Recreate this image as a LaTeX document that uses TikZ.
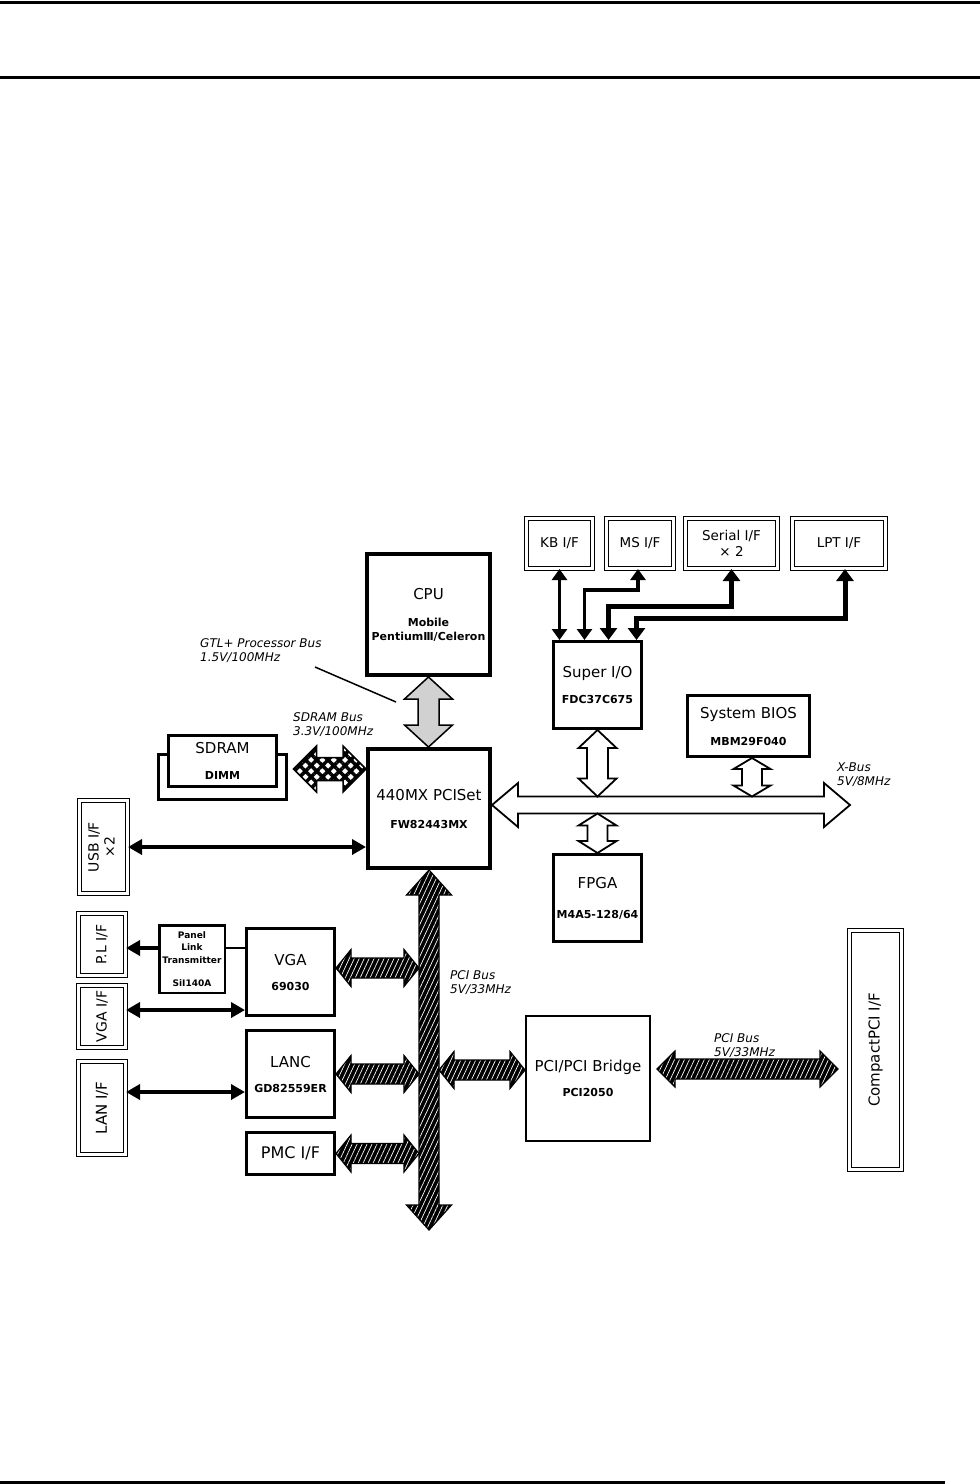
\documentclass[tikz,border=0pt]{standalone}
\usepackage{fontspec}
\setmainfont{DejaVu Sans}
\usetikzlibrary{arrows.meta,calc,patterns.meta,backgrounds}

\newcommand\boxttl[1]{{\mdseries\fontsize{15}{15}\selectfont #1}}
\newcommand\subfnt{\bfseries\fontsize{11}{14}\selectfont}
% horizontal double fat arrow: style, left tip, right tip, shaft half, head half, head length
\newcommand\fatH[6]{%
  \path[#1] let \p1=(#2), \p2=(#3) in
    (\x1,\y1) -- (\x1+#6pt,\y1+#5pt) -- (\x1+#6pt,\y1+#4pt) -- (\x2-#6pt,\y1+#4pt)
    -- (\x2-#6pt,\y1+#5pt) -- (\x2,\y1) -- (\x2-#6pt,\y1-#5pt) -- (\x2-#6pt,\y1-#4pt)
    -- (\x1+#6pt,\y1-#4pt) -- (\x1+#6pt,\y1-#5pt) -- cycle;}
% vertical double fat arrow: style, top tip, bottom tip, shaft half, head half, head length
\newcommand\fatV[6]{%
  \path[#1] let \p1=(#2), \p2=(#3) in
    (\x1,\y1) -- (\x1+#5pt,\y1-#6pt) -- (\x1+#4pt,\y1-#6pt) -- (\x1+#4pt,\y2+#6pt)
    -- (\x1+#5pt,\y2+#6pt) -- (\x1,\y2) -- (\x1-#5pt,\y2+#6pt) -- (\x1-#4pt,\y2+#6pt)
    -- (\x1-#4pt,\y1-#6pt) -- (\x1-#5pt,\y1-#6pt) -- cycle;}

\tikzset{
  blk/.style={draw, line width=3pt, inner sep=0pt, align=center, font=\subfnt, fill=white},
  dblbox/.style={draw, double, double distance=2.6pt, line width=1.4pt, inner sep=0pt,
    align=center, font=\fontsize{13.5}{16}\selectfont},
  lbl/.style={font=\itshape\fontsize{12}{14}\selectfont, align=left, anchor=north west, inner sep=0pt},
  ioarr/.style={line width=3.5pt, <->, >={Triangle[width=15pt,length=11pt]}},
  ioarrb/.style={line width=5pt, <->, >={Triangle[width=17pt,length=12pt]}},
  bigarr/.style={line width=4.5pt, <->, >={Triangle[width=15pt,length=14pt]}},
  grayfat/.style={draw, line width=1.5pt, fill=black!18, line join=miter},
  whitefat/.style={draw, line width=1.8pt, fill=white, line join=miter},
  hatchfat/.style={draw, line width=1.2pt, preaction={fill=black},
    pattern={Lines[angle=65,distance=4.5pt,line width=0.7pt]}, pattern color=white},
  crossfat/.style={draw, line width=1.5pt, preaction={fill=white},
    pattern={Hatch[angle=45,distance=8pt,line width=3.5pt]}, pattern color=black},
}

\begin{document}
\begin{tikzpicture}[x=1pt,y=-1pt]
\useasboundingbox (0,0) rectangle (980,1484);
\begin{scope}[on background layer]
  \fill[white] (0,0) rectangle (980,1484);
\end{scope}

% page rules
\draw[line width=3pt] (0,2) -- (980,2);
\draw[line width=3pt] (0,77.5) -- (980,77.5);
\draw[line width=3pt] (0,1482) -- (945,1482);

% main blocks
\node[blk, line width=4pt, minimum width=123pt, minimum height=121pt] (cpu) at (428.5,614.5)
  {\boxttl{CPU}\\[13pt]Mobile\\PentiumⅢ/Celeron};
\node[blk, line width=4pt, minimum width=122pt, minimum height=119pt] (mch) at (429,808.5)
  {\boxttl{440MX PCISet}\\[14pt]FW82443MX};
\node[blk, minimum width=108pt, minimum height=51pt] (sdram) at (222.5,761)
  {\boxttl{SDRAM}\\[12pt]DIMM};
\begin{scope}[on background layer]
  \draw[line width=3pt] ($(sdram.south west)+(-8.5,11.5)$) rectangle ($(sdram.north east)+(8.5,20)$);
\end{scope}
\node[blk, minimum width=88pt, minimum height=87pt] (sio) at (597.5,685)
  {\boxttl{Super I/O}\\[12pt]FDC37C675};
\node[blk, minimum width=122pt, minimum height=61pt] (bios) at (748.5,726)
  {\boxttl{System BIOS}\\[13pt]MBM29F040};
\node[blk, minimum width=88pt, minimum height=87pt] (fpga) at (597.5,898)
  {\boxttl{FPGA}\\[16pt]M4A5-128/64};
\node[blk, minimum width=88pt, minimum height=87pt] (vga) at (290.5,972)
  {\boxttl{VGA}\\[11pt]69030};
\node[blk, minimum width=88pt, minimum height=87pt] (lanc) at (290.5,1074)
  {\boxttl{LANC}\\[11pt]GD82559ER};
\node[blk, minimum width=88pt, minimum height=42pt, font=\fontsize{16}{16}\selectfont] (pmc) at (290.5,1153.5)
  {PMC I/F};
\node[blk, line width=2pt, minimum width=124pt, minimum height=125pt] (bridge) at (588,1078.5)
  {\boxttl{PCI/PCI Bridge}\\[11pt]PCI2050};
\node[blk, line width=2.5pt, minimum width=65.5pt, minimum height=67.5pt,
  font=\bfseries\fontsize{9}{12.5}\selectfont] (plt) at (192,959)
  {Panel\\Link\\Transmitter\\[11pt]SiI140A};

% interface boxes
\node[dblbox, minimum width=65.6pt, minimum height=49.6pt] (kb) at (559.5,543.5) {KB I/F};
\node[dblbox, minimum width=66.6pt, minimum height=49.6pt] (ms) at (640,543.5) {MS I/F};
\node[dblbox, minimum width=91.6pt, minimum height=49.6pt] (ser) at (731.5,543.5) {Serial I/F\\× 2};
\node[dblbox, minimum width=92.6pt, minimum height=49.6pt] (lpt) at (839,543.5) {LPT I/F};
\node[dblbox, minimum width=47.6pt, minimum height=92.6pt, font=\fontsize{14}{16}\selectfont] (usb) at (103.5,847)
  {\rotatebox{90}{\begin{tabular}{@{}c@{}}USB I/F\\[0pt]×2\end{tabular}}};
\node[dblbox, minimum width=46.6pt, minimum height=61.6pt, font=\fontsize{14}{16}\selectfont] (pl) at (102,944.5)
  {\rotatebox{90}{P.L I/F}};
\node[dblbox, minimum width=46.6pt, minimum height=61.6pt, font=\fontsize{14}{16}\selectfont] (vgaif) at (102,1016.5)
  {\rotatebox{90}{VGA I/F}};
\node[dblbox, minimum width=46.6pt, minimum height=92.6pt, font=\fontsize{15}{16}\selectfont] (lanif) at (102,1108)
  {\rotatebox{90}{LAN I/F}};
\node[dblbox, minimum width=51.6pt, minimum height=238.6pt, font=\fontsize{15}{16}\selectfont] (cpci) at (875.5,1050)
  {\rotatebox{90}{CompactPCI I/F}};

% bus labels
\node[lbl] (gtl) at (200,638) {GTL+ Processor Bus\\1.5V/100MHz};
\node[lbl] (sdbus) at (293,712) {SDRAM Bus\\3.3V/100MHz};
\node[lbl] (xbus) at (837,763) {X-Bus\\5V/8MHz};
\node[lbl] (pcibus) at (450,970) {PCI Bus\\5V/33MHz};
\node[lbl] (cpcibus) at (714,1033) {PCI Bus\\5V/33MHz};
\coordinate (ldA) at (315,667);
\coordinate (ldB) at (396,702);
\draw[line width=1.5pt] (ldA) -- (ldB);

% CPU bus
\fatV{grayfat}{cpu.south}{mch.north}{10.5}{24}{22}

% SDRAM bus
\coordinate (sdA) at ($(sdram.east)+(15.5,8)$);
\fatH{crossfat}{sdA}{sdA -| mch.west}{11.5}{23}{23}

% X-Bus
\coordinate (xbL) at ($(mch.east)+(0,-3.5)$);
\coordinate (xbR) at ($(xbL)+(358,0)$);
\coordinate (xbT) at ($(xbL)+(0,-8.5)$);
\coordinate (xbB) at ($(xbL)+(0,8.5)$);
\fatH{whitefat}{xbL}{xbR}{8.5}{22}{26}
\fatV{whitefat}{sio.south}{sio.south |- xbT}{10.5}{19}{18}
\coordinate (bioA) at ($(bios.south)+(3.5,0)$);
\fatV{whitefat}{bioA}{bioA |- xbT}{10}{18.5}{11}
\fatV{whitefat}{fpga.north |- xbB}{fpga.north}{10}{19}{12}

% PCI bus
\coordinate (busEnd) at ($(mch.south)+(0,360)$);
\coordinate (busL) at ($(mch.south)+(-10,0)$);
\coordinate (busR) at ($(mch.south)+(10,0)$);
\fatV{hatchfat}{mch.south}{busEnd}{10}{22.5}{25}
\coordinate (vgA) at ($(vga.east)+(0,-4)$);
\fatH{hatchfat}{vgA}{vgA -| busL}{10}{18.5}{15}
\fatH{hatchfat}{lanc.east}{lanc.east -| busL}{10}{18.5}{15}
\fatH{hatchfat}{pmc.east}{pmc.east -| busL}{10}{18.5}{15}
\coordinate (brA) at ($(bridge.west)+(0,-8.5)$);
\fatH{hatchfat}{brA -| busR}{brA}{10}{18.5}{15}
\coordinate (cpA) at ($(bridge.east)+(6,-9.5)$);
\coordinate (cpB) at ($(cpA -| cpci.west)+(-11,0)$);
\fatH{hatchfat}{cpA}{cpB}{10}{18}{18}

% left side connectors
\draw[bigarr] (usb.east) -- (usb.east -| mch.west);
\coordinate (plA) at ($(plt.west)+(0,-11)$);
\draw[line width=4.5pt, -{Triangle[width=15pt,length=14pt]}] (plA) -- (plA -| pl.east);
\draw[line width=2.5pt] (plA -| vga.west) -- (plA -| plt.east);
\coordinate (viA) at ($(vga.west)+(0,38)$);
\draw[bigarr] (viA -| vgaif.east) -- (viA);
\coordinate (laA) at ($(lanc.west)+(0,18)$);
\draw[bigarr] (laA -| lanif.east) -- (laA);

% super I/O connectors
\draw[ioarr] (kb.south) -- (kb.south |- sio.north);
\draw[ioarr] ($(ms.south)+(-2,0)$) -- ++(0,21) -| ($(sio.north west)+(32.5,0)$);
\draw[ioarrb] (ser.south) -- ++(0,37.5) -| ($(sio.north west)+(56.5,0)$);
\draw[ioarrb] ($(lpt.south)+(6,0)$) -- ++(0,49.5) -| ($(sio.north west)+(84.5,0)$);
\end{tikzpicture}
\end{document}
